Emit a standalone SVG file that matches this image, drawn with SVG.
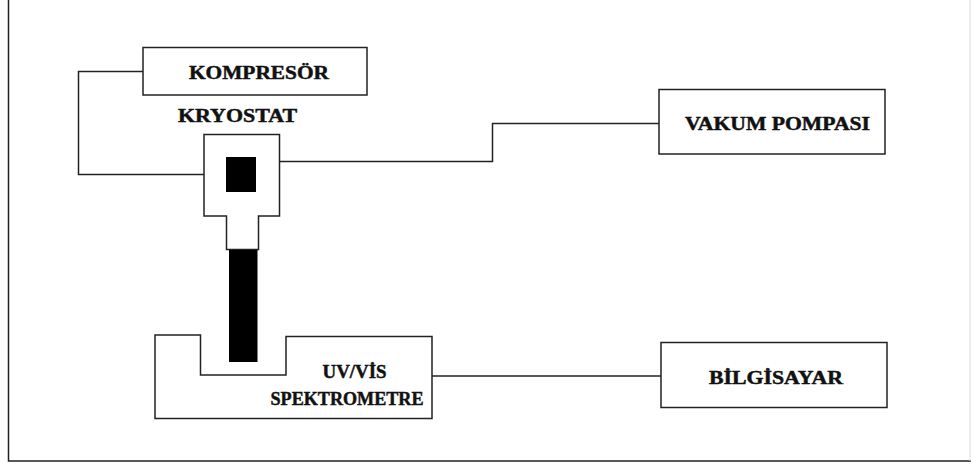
<svg xmlns="http://www.w3.org/2000/svg" width="971" height="467" viewBox="0 0 971 467">
<style>
.box{fill:#fff;stroke:#222;stroke-width:1.5}
.ln{fill:none;stroke:#222;stroke-width:1.5}
.t{font-family:"Liberation Serif","Times New Roman",serif;font-weight:bold;font-size:18px;fill:#111;stroke:#111;stroke-width:0.45}
</style>
<rect width="971" height="467" fill="#fff"/>
<g id="frame">
<polyline class="ln" points="8.5,-2 8.5,461 972,461" stroke="#444" stroke-width="2"/>
<line x1="970" y1="0" x2="970" y2="461" stroke="#ddd" stroke-width="1"/>
</g>
<g id="connectors">
<polyline class="ln" points="143,71.5 78.5,71.5 78.5,174.5 204,174.5"/>
<polyline class="ln" points="279,161.5 492.5,161.5 492.5,123.5 659,123.5"/>
<line class="ln" x1="432" y1="376" x2="661" y2="376"/>
</g>
<g id="kompresor">
<rect class="box" x="143" y="47.5" width="224" height="47.5"/>
<text class="t" x="189" y="78.5" textLength="140" lengthAdjust="spacingAndGlyphs">KOMPRESÖR</text>
</g>
<g id="kryostat">
<text class="t" x="178" y="122" textLength="119" lengthAdjust="spacingAndGlyphs">KRYOSTAT</text>
<polygon class="box" points="204,134.5 279.5,134.5 279.5,216 258.5,216 258.5,249.5 226.5,249.5 226.5,216 204,216"/>
<rect x="226" y="157" width="30" height="35" fill="#000"/>
<rect x="229" y="250" width="28.5" height="112" fill="#000"/>
</g>
<g id="vakum">
<rect class="box" x="659" y="89.5" width="226" height="64.5"/>
<text class="t" x="685" y="130" textLength="185" lengthAdjust="spacingAndGlyphs">VAKUM POMPASI</text>
</g>
<g id="spektrometre">
<polygon class="box" points="155,335 200.5,335 200.5,375 286,375 286,336.5 432,336.5 432,418.5 155,418.5"/>
<text class="t" x="322.5" y="378" textLength="64" lengthAdjust="spacingAndGlyphs">UV/VİS</text>
<text class="t" x="270.5" y="405" textLength="153" lengthAdjust="spacingAndGlyphs">SPEKTROMETRE</text>
</g>
<g id="bilgisayar">
<rect class="box" x="661" y="342.5" width="226" height="65"/>
<text class="t" x="709" y="384" textLength="134" lengthAdjust="spacingAndGlyphs">BİLGİSAYAR</text>
</g>
</svg>
